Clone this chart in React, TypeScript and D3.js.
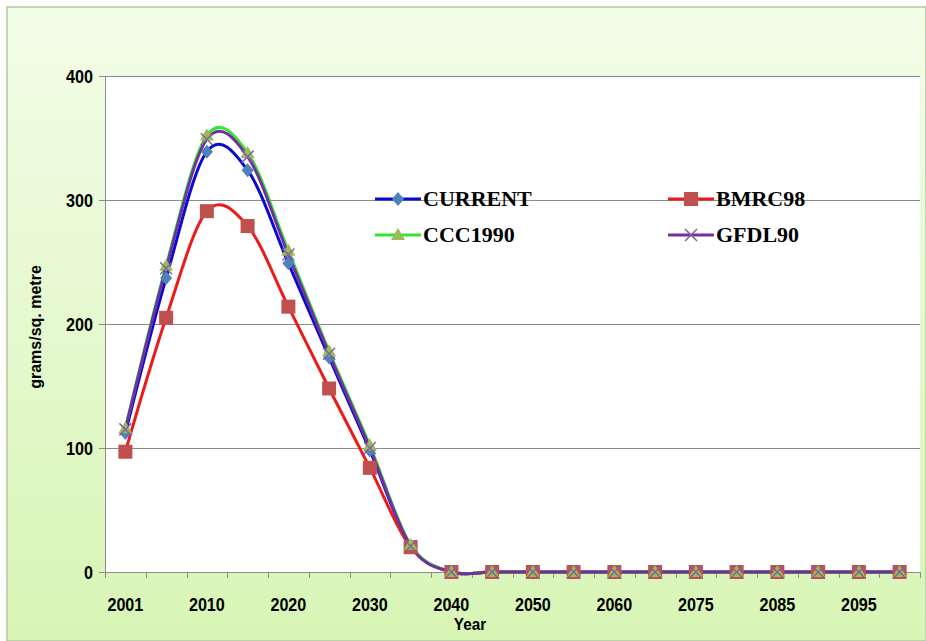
import React, { useEffect, useRef } from 'react';
import * as d3 from 'd3';

const years = ['2001', '2005', '2010', '2015', '2020', '2025', '2030', '2035', '2040', '2045',
  '2050', '2055', '2060', '2070', '2075', '2080', '2085', '2090', '2095', '2100'];

const current = [112, 237, 339, 324, 249, 173, 98, 21, 0, 0, 0, 0, 0, 0, 0, 0, 0, 0, 0, 0];
const bmrc98 = [97, 205, 291, 279, 214, 148, 84, 20, 0, 0, 0, 0, 0, 0, 0, 0, 0, 0, 0, 0];
const ccc1990 = [116, 247, 352, 338, 259, 178, 102, 22, 0, 0, 0, 0, 0, 0, 0, 0, 0, 0, 0, 0];
const gfdl90 = [115, 245, 349, 335, 256, 176, 100, 21, 0, 0, 0, 0, 0, 0, 0, 0, 0, 0, 0, 0];

const yTicks = [0, 100, 200, 300, 400];

const series = [
  { name: 'CURRENT', values: current, line: '#0a0ad2', marker: 'diamond', fill: '#4f81bd' },
  { name: 'BMRC98', values: bmrc98, line: '#ee1a1a', marker: 'square', fill: '#c0504d' },
  { name: 'CCC1990', values: ccc1990, line: '#33e633', marker: 'triangle', fill: '#9bbb59' },
  { name: 'GFDL90', values: gfdl90, line: '#7030a0', marker: 'x', fill: '#8064a2' },
];

const W = 926;
const H = 641;
const margin = { top: 76, right: 6, bottom: 69, left: 105 };

function drawMarker(g: any, type: string, cx: number, cy: number, fill: string) {
  if (type === 'diamond') {
    g.append('path')
      .attr('d', `M${cx},${cy - 7}L${cx + 6},${cy}L${cx},${cy + 7}L${cx - 6},${cy}Z`)
      .attr('fill', fill);
  } else if (type === 'square') {
    g.append('rect')
      .attr('x', cx - 7).attr('y', cy - 7)
      .attr('width', 14).attr('height', 14)
      .attr('fill', fill);
  } else if (type === 'triangle') {
    g.append('path')
      .attr('d', `M${cx},${cy - 7}L${cx + 7},${cy + 5}L${cx - 7},${cy + 5}Z`)
      .attr('fill', fill);
  } else {
    g.append('path')
      .attr('d', `M${cx - 6},${cy - 6}L${cx + 6},${cy + 6}M${cx - 6},${cy + 6}L${cx + 6},${cy - 6}`)
      .attr('stroke', fill)
      .attr('stroke-width', 1.5)
      .attr('fill', 'none');
  }
}

const App: React.FC = () => {
  const svgRef = useRef<SVGSVGElement>(null);

  useEffect(() => {
    if (!svgRef.current) return;
    const svg = d3.select(svgRef.current);
    svg.selectAll('*').remove();

    const x0 = margin.left;
    const y1 = margin.top;

    const xScale = d3.scaleBand<string>().domain(years).range([x0, 920]).padding(0);
    const yScale = d3.scaleLinear().domain([0, 400]).range([572, y1]);
    const xc = (d: string) => (xScale(d) as number) + xScale.bandwidth() / 2;

    // background
    const defs = svg.append('defs');
    const grad = defs.append('linearGradient').attr('id', 'bg').attr('x1', 0).attr('y1', 0).attr('x2', 0).attr('y2', 1);
    grad.append('stop').attr('offset', '0%').attr('stop-color', '#f2fde8');
    grad.append('stop').attr('offset', '100%').attr('stop-color', '#d8f5b5');

    svg.append('rect').attr('width', W).attr('height', H).attr('fill', '#ffffff');
    svg.append('rect')
      .attr('x', 7).attr('y', 7).attr('width', W - 7).attr('height', H - 7)
      .attr('fill', 'url(#bg)')
      .attr('stroke', '#b5c8a0').attr('stroke-width', 1.5);

    // plot area
    svg.append('rect')
      .attr('x', x0).attr('y', y1).attr('width', 920 - x0).attr('height', 572 - y1)
      .attr('fill', '#ffffff');

    // grid lines
    svg.append('g')
      .selectAll('line')
      .data(yTicks)
      .enter().append('line')
      .attr('x1', x0 - 6).attr('x2', 920)
      .attr('y1', d => Math.round(yScale(d)) + 0.5).attr('y2', d => Math.round(yScale(d)) + 0.5)
      .attr('stroke', '#8c8c8c').attr('stroke-width', 1);

    // y axis line
    svg.append('line')
      .attr('x1', x0 + 0.5).attr('x2', x0 + 0.5).attr('y1', y1).attr('y2', 578)
      .attr('stroke', '#8c8c8c');

    // x ticks at band boundaries
    const bounds = years.map(d => xScale(d) as number).concat([920]);
    svg.append('g')
      .selectAll('line')
      .data(bounds)
      .enter().append('line')
      .attr('x1', d => Math.round(d) + 0.5).attr('x2', d => Math.round(d) + 0.5)
      .attr('y1', 572).attr('y2', 578)
      .attr('stroke', '#8c8c8c');

    // y tick labels
    svg.append('g')
      .selectAll('text')
      .data(yTicks)
      .enter().append('text')
      .attr('transform', d => `translate(93,${yScale(d) + 7}) scale(0.85,1)`)
      .attr('text-anchor', 'end')
      .style('font-family', 'Arial, "Liberation Sans", sans-serif')
      .style('font-weight', 'bold')
      .style('font-size', '19px')
      .attr('fill', '#000')
      .text(d => d);

    // x tick labels, every other category
    svg.append('g')
      .selectAll('text')
      .data(years.filter((d, i) => i % 2 === 0))
      .enter().append('text')
      .attr('transform', d => `translate(${xc(d)},611) scale(0.85,1)`)
      .attr('text-anchor', 'middle')
      .style('font-family', 'Arial, "Liberation Sans", sans-serif')
      .style('font-weight', 'bold')
      .style('font-size', '19px')
      .attr('fill', '#000')
      .text(d => d);

    // axis titles
    svg.append('text')
      .attr('transform', 'translate(470,630) scale(0.9,1)')
      .attr('text-anchor', 'middle')
      .style('font-family', 'Arial, "Liberation Sans", sans-serif')
      .style('font-weight', 'bold')
      .style('font-size', '17px')
      .attr('fill', '#000')
      .text('Year');

    svg.append('text')
      .attr('transform', 'translate(41,327) rotate(-90)')
      .attr('text-anchor', 'middle')
      .style('font-family', 'Arial, "Liberation Sans", sans-serif')
      .style('font-weight', 'bold')
      .style('font-size', '16px')
      .attr('fill', '#000')
      .text('grams/sq. metre');

    // lines
    const line = d3.line<number>()
      .x((d, i) => xc(years[i]))
      .y(d => yScale(d))
      .curve(d3.curveCardinal.tension(0));

    series.forEach(s => {
      svg.append('path')
        .datum(s.values)
        .attr('fill', 'none')
        .attr('stroke', s.line)
        .attr('stroke-width', 3)
        .attr('d', line);
    });

    // markers
    series.forEach(s => {
      const mg = svg.append('g');
      s.values.forEach((v, i) => drawMarker(mg, s.marker, xc(years[i]), yScale(v), s.fill));
    });

    // legend
    const legend = svg.append('g');
    series.forEach((s, i) => {
      const lx = i % 2 === 0 ? 375 : 668;
      const ly = i < 2 ? 199 : 235;
      legend.append('line')
        .attr('x1', lx).attr('x2', lx + 46).attr('y1', ly).attr('y2', ly)
        .attr('stroke', s.line).attr('stroke-width', 3);
      drawMarker(legend, s.marker, lx + 23, ly, s.fill);
      legend.append('text')
        .attr('x', lx + 48).attr('y', ly + 7)
        .style('font-family', '"Times New Roman", "Liberation Serif", serif')
        .style('font-weight', 'bold')
        .style('font-size', '22px')
        .attr('fill', '#000')
        .text(s.name);
    });
  }, []);

  return (
    <div style={{ position: 'absolute', left: 0, top: 0 }}>
      <svg ref={svgRef} width={W} height={H} style={{ display: 'block' }} />
    </div>
  );
};

export default App;
